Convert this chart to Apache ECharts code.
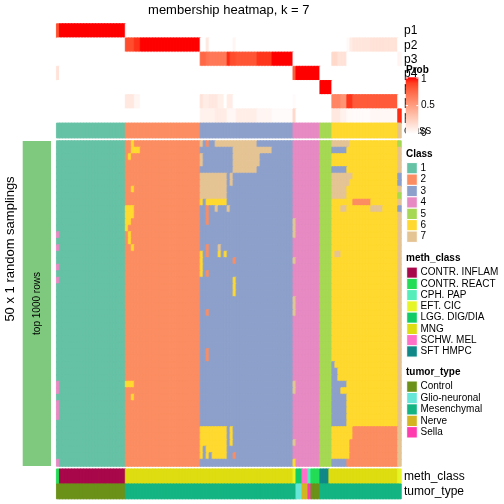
<!DOCTYPE html>
<html><head><meta charset="utf-8">
<script src="https://cdn.jsdelivr.net/npm/echarts@6/dist/echarts.min.js"></script>
<style>html,body{margin:0;padding:0;background:#fff}#c{width:504px;height:504px}</style>
</head><body><div id="c"></div>
<script>
// ---------- data ----------
const NCOL = 115;
const NROW = 50;
const probLabels = ['p1','p2','p3','p4','p5','p6','p7'];
// run-length [probability, number of columns]
const p1 = [[0.85,1],[1,22],[0,92]];
const p2 = [[0,23],[0.85,3],[0.93,2],[1,20],[0,2],[0.12,1],[0,8],[0.05,1],[0,19],[0,9],[0,4],[0,5],[0.03,1],[0.1,1],[0.13,6],[0.15,9],[0,1]];
const p3 = [[0,48],[0.75,2],[0.7,1],[0.68,6],[0.95,1],[0.85,2],[0.82,7],[0.92,5],[1,7],[0,9],[0,4],[0.2,2],[0.15,3],[0,17],[0.05,1]];
const p4 = [[0.15,1],[0,78],[0.8,1],[1,8],[0,27]];
const p5 = [[0,88],[1,4],[0,23]];
const p6 = [[0,23],[0.12,3],[0.05,2],[0,20],[0.15,1],[0.1,2],[0.12,3],[0.08,2],[0,1],[0.1,2],[0,20],[0.02,1],[0,8],[0,4],[0.62,3],[0.55,2],[0.92,2],[0.8,15],[0,1]];
const p7 = [[0,48],[0.07,5],[0.1,4],[0.04,3],[0.09,7],[0.05,5],[0.02,7],[0.2,1],[0,8],[0,4],[0.12,3],[0.07,2],[0.03,2],[0.02,6],[0.04,9],[0.95,1]];

const classNames = ['1','2','3','4','5','6','7'];
const classColors = ['#66C2A5','#FC8D62','#8DA0CB','#E78AC3','#A6D854','#FFD92F','#E5C494'];
const classRuns = [[1,23],[2,25],[3,31],[4,9],[5,4],[6,22],[7,1]];
// per-sampling deviations from the consensus class: [rowFrom,rowTo,colFrom,colTo,class]
const mainExceptions = [
 [14,14,0,0,4],[16,16,0,0,4],[19,19,0,0,4],[21,21,0,0,4],[37,38,0,0,4],[40,42,0,0,4],[49,49,0,0,4],
 [0,0,25,25,6],[1,1,25,27,6],[2,2,24,24,6],[7,7,25,25,6],[10,11,23,25,6],[12,12,23,24,6],[13,13,23,23,6],[14,15,24,24,6],[16,16,25,25,6],[37,37,23,25,6],[39,39,25,25,6],
 [0,0,48,48,7],[0,0,50,50,2],[0,0,53,66,7],
 [1,1,59,71,7],
 [2,3,48,48,7],[2,3,59,67,7],
 [4,4,59,66,7],
 [5,8,48,56,7],[5,6,58,58,7],
 [9,9,48,48,6],[9,9,50,56,6],
 [10,12,50,50,2],[10,10,53,53,7],[10,10,57,57,7],
 [16,16,50,50,2],[16,16,54,54,7],
 [17,17,48,48,6],[17,17,50,50,2],[17,17,54,54,6],[17,17,56,56,6],
 [18,18,48,48,6],[18,18,59,59,2],
 [19,20,48,48,6],[20,20,50,50,2],
 [21,23,59,59,6],
 [26,26,50,50,2],
 [32,33,50,50,2],
 [44,46,48,56,6],[44,46,58,58,6],
 [47,47,48,48,6],[47,47,50,56,6],
 [48,48,48,48,6],[48,48,50,50,6],[48,48,52,56,6],[48,48,59,59,2],
 [12,14,79,79,7],[18,18,79,79,7],[24,26,79,79,7],[37,38,79,79,7],[46,46,79,79,7],[49,49,79,79,6],
 [0,0,92,97,7],[1,1,92,96,3],[4,4,92,96,3],[5,5,92,98,7],[6,6,92,97,7],[7,8,92,96,7],[9,9,99,104,2],[10,10,95,96,7],[10,10,105,108,7],[17,17,93,94,7],
 [34,34,92,92,3],[35,36,92,93,3],[37,37,92,96,3],[38,38,92,94,3],[39,43,92,96,3],
 [44,45,99,113,2],[46,48,98,113,2],[49,49,92,96,3],[49,49,97,113,2],
 [0,0,114,114,5],[5,6,114,114,3],[8,8,114,114,5],[10,10,114,114,3]
];

const methNames = ['CONTR. INFLAM','CONTR. REACT','CPH. PAP','EFT. CIC','LGG. DIG/DIA','MNG','SCHW. MEL','SFT HMPC'];
const methColors = ['#A8084A','#22DD55','#55EEBB','#E6F526','#11CC66','#DDDD11','#FF70C8','#118888'];
const methRuns = [['CONTR. REACT',1],['CONTR. INFLAM',22],['MNG',56],['EFT. CIC',1],['LGG. DIG/DIA',2],['SCHW. MEL',2],['CPH. PAP',1],['CONTR. REACT',3],['SFT HMPC',3],['MNG',23],['EFT. CIC',1]];

const tumorNames = ['Control','Glio-neuronal','Mesenchymal','Nerve','Sella'];
const tumorColors = ['#6B9119','#66E6D6','#14B482','#D4B420','#FF3BAE'];
const tumorRuns = [['Control',23],['Mesenchymal',57],['Glio-neuronal',2],['Nerve',2],['Sella',1],['Control',3],['Mesenchymal',27]];

const probTicks = [1, 0.5, 0];

// ---------- helpers ----------
function expand(runs){const o=[];runs.forEach(([v,n])=>{for(let i=0;i<n;i++)o.push(v);});return o;}
function lab2rgb(L,a,b){
  const fy=(L+16)/116, fx=fy+a/500, fz=fy-b/200;
  const f=t=>{const t3=t*t*t;return t3>0.008856?t3:(t-16/116)/7.787;};
  const X=0.95047*f(fx), Y=f(fy), Z=1.08883*f(fz);
  const r=3.2406*X-1.5372*Y-0.4986*Z, g=-0.9689*X+1.8758*Y+0.0415*Z, bb=0.0557*X-0.2040*Y+1.0570*Z;
  const gc=c=>{c=Math.max(0,Math.min(1,c));return Math.round(255*(c>0.0031308?1.055*Math.pow(c,1/2.4)-0.055:12.92*c));};
  return 'rgb('+gc(r)+','+gc(g)+','+gc(bb)+')';
}
function probColor(v){return lab2rgb(100-46.76*v, 80.09*v, 67.20*v);}

const cols = Array.from({length:NCOL},(_,i)=>String(i));
const classCol = expand(classRuns);
const methCol = expand(methRuns);
const tumorCol = expand(tumorRuns);

// main matrix
const mat = [];
for(let r=0;r<NROW;r++){mat.push(classCol.slice());}
mainExceptions.forEach(([r0,r1,c0,c1,k])=>{for(let r=r0;r<=r1;r++)for(let c=c0;c<=c1;c++)mat[r][c]=k;});

// ---------- layout ----------
const L = 56.7, W = 344.3;
const grids = [
  {left:L, top:24, width:W, height:99.3},    // prob
  {left:L, top:123.3, width:W, height:14.4}, // class
  {left:L, top:141, width:W, height:325},    // main
  {left:L, top:469.2, width:W, height:14.4}, // meth
  {left:L, top:484.2, width:W, height:14.4}  // tumor
];
const xAxes = grids.map((g,i)=>({type:'category',gridIndex:i,data:cols,show:false}));
const yCats = [probLabels,['class'],Array.from({length:NROW},(_,i)=>String(i)),['meth_class'],['tumor_type']];
const yAxes = yCats.map((d,i)=>({type:'category',gridIndex:i,data:d,inverse:true,show:false}));

function cell(c,r,v,color){return {value:[c,r,v],itemStyle:{color:color,borderColor:color,borderWidth:0.9}};}
const probData=[];
[p1,p2,p3,p4,p5,p6,p7].forEach((row,ri)=>{expand(row).forEach((v,c)=>probData.push(cell(c,ri,v,probColor(v))));});
const classData = classCol.map((k,c)=>cell(c,0,k,classColors[k-1]));
const mainData=[];
mat.forEach((row,r)=>row.forEach((k,c)=>mainData.push(cell(c,r,k,classColors[k-1]))));
const methData = methCol.map((n,c)=>cell(c,0,methNames.indexOf(n),methColors[methNames.indexOf(n)]));
const tumorData = tumorCol.map((n,c)=>cell(c,0,tumorNames.indexOf(n),tumorColors[tumorNames.indexOf(n)]));

function hm(i,data){return {type:'heatmap',xAxisIndex:i,yAxisIndex:i,data:data,progressive:0,animation:false,emphasis:{disabled:true},silent:true};}

// ---------- graphics ----------
const FONT = '"Liberation Sans", Arial, Helvetica, sans-serif';
const g = [];
function txt(x,y,s,size,opt){g.push({type:'text',x:x,y:y,z:opt&&opt.z||10,rotation:opt&&opt.rotation||0,
  style:{text:s,fontFamily:FONT,fontSize:size,fontWeight:opt&&opt.bold?'bold':'normal',fill:'#000',
  align:opt&&opt.align||'left',verticalAlign:'middle'}});}
// title
txt(228.8,10,'membership heatmap, k = 7',13,{align:'center'});
// left annotation
g.push({type:'rect',shape:{x:22.7,y:141,width:28.3,height:325},style:{fill:'#7FC97F'},z:5});
txt(37,303.5,'top 1000 rows',10,{align:'center',rotation:Math.PI/2,z:12});
txt(10,249,'50 x 1 random samplings',13,{align:'center',rotation:Math.PI/2});
// right row labels
probLabels.forEach((p,i)=>txt(404,24+14.19*i+7.1,p,12));
txt(404,130.5,'class',12);
txt(404,476.4,'meth_class',12);
txt(404,491.4,'tumor_type',12);
// Prob color bar legend
txt(406,70,'Prob',10,{bold:true,z:20});
const stops=[];for(let i=0;i<=10;i++){stops.push({offset:i/10,color:probColor(1-i/10)});}
g.push({type:'rect',z:20,shape:{x:405.7,y:77.3,width:12.6,height:56.7},style:{fill:new echarts.graphic.LinearGradient(0,0,0,1,stops)}});
probTicks.forEach(v=>{
  const y = 77.3 + (1-v)*56.7;
  const yy = Math.min(Math.max(y,78),133);
  g.push({type:'line',z:21,shape:{x1:405.7,y1:yy,x2:408,y2:yy},style:{stroke:'#fff',lineWidth:1}});
  g.push({type:'line',z:21,shape:{x1:416.3,y1:yy,x2:418.3,y2:yy},style:{stroke:'#fff',lineWidth:1}});
  txt(421,y+ (v===1?2:(v===0?-1:0)),String(v),10,{z:20});
});
// discrete legends
function legend(title,titleY,names,colors,firstY,step){
  txt(406,titleY,title,10,{bold:true,z:20});
  names.forEach((n,i)=>{
    const cy=firstY+step*i;
    g.push({type:'rect',z:20,shape:{x:406.7,y:cy-step/2,width:10.6,height:step},style:{fill:colors[i],stroke:'#fff',lineWidth:1}});
    txt(420.5,cy,n,10,{z:20});
  });
}
legend('Class',154,classNames,classColors,168.3,11.4);
legend('meth_class',258,methNames,methColors,272.7,11.25);
legend('tumor_type',372,tumorNames,tumorColors,386.7,11.4);

const chart = echarts.init(document.getElementById('c'),null,{renderer:'canvas'});
chart.setOption({
  animation:false,
  backgroundColor:'#fff',
  grid:grids,
  xAxis:xAxes,
  yAxis:yAxes,
  series:[hm(0,probData),hm(1,classData),hm(2,mainData),hm(3,methData),hm(4,tumorData)],
  graphic:{elements:g}
});
</script></body></html>
